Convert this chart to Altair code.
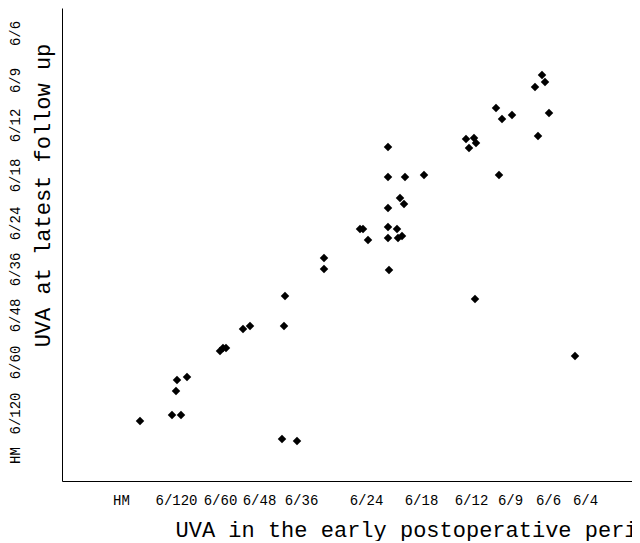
import altair as alt
import pandas as pd

# Acuity categories and where each label sits along its axis (axis units)
x_labels = ["HM", "6/120", "6/60", "6/48", "6/36", "6/24", "6/18", "6/12", "6/9", "6/6", "6/4"]
x_ticks = [5.9, 11.4, 15.8, 19.7, 23.9, 30.4, 35.9, 40.9, 44.8, 48.6, 52.3]
y_labels = ["HM", "6/120", "6/60", "6/48", "6/36", "6/24", "6/18", "6/12", "6/9", "6/6"]
y_ticks = [2.6, 6.8, 11.9, 16.6, 21.2, 25.8, 30.6, 35.6, 40.1, 44.8]

# Patients: UVA early postoperative (x) vs UVA at latest follow up (y)
uva_early = [7.8, 11.0, 11.9, 11.4, 11.5, 12.5, 15.8, 16.1, 16.4, 18.1, 18.8,
             22.3, 22.2, 22.0, 23.5,
             26.2, 26.2, 29.8, 30.1, 30.6, 32.6, 32.6, 32.6, 32.6, 32.6, 32.7,
             33.5, 33.6, 34.0, 33.8, 34.2, 34.3, 36.2,
             40.4, 41.2, 41.4, 40.7, 41.3, 43.4, 44.0, 45.0, 43.7, 47.3, 48.0,
             48.3, 48.7, 47.6, 51.3]
uva_latest = [6.0, 6.6, 6.6, 9.0, 10.1, 10.4, 13.0, 13.3, 13.3, 15.2, 15.5,
              18.5, 15.5, 4.2, 4.0,
              22.3, 21.2, 25.2, 25.2, 24.1, 33.4, 30.4, 27.3, 25.4, 24.3, 21.1,
              25.2, 24.3, 24.5, 28.3, 27.7, 30.4, 30.6,
              34.2, 34.3, 33.8, 33.3, 18.2, 37.3, 36.2, 36.6, 30.6, 39.4, 40.6,
              39.9, 36.8, 34.5, 12.5]

df = pd.DataFrame({"early": uva_early, "latest": uva_latest})

x_expr = "{" + ", ".join(f"'{v}': '{l}'" for v, l in zip(x_ticks, x_labels)) + "}[datum.value]"
y_expr = "{" + ", ".join(f"'{v}': '{l}'" for v, l in zip(y_ticks, y_labels)) + "}[datum.value]"

font = "Liberation Mono"

chart = alt.Chart(df).mark_point(
    shape="diamond", filled=True, color="black", opacity=1, size=72
).encode(
    x=alt.X("early:Q",
            scale=alt.Scale(domain=[0, 57.0], nice=False, zero=False),
            axis=alt.Axis(values=x_ticks, labelExpr=x_expr, ticks=False, grid=False,
                          domainColor="black", domainWidth=1,
                          labelFont=font, labelFontSize=14, labelColor="black",
                          labelPadding=12, labelBaseline="top", labelAlign="center",
                          labelOverlap=False,
                          title="UVA in the early postoperative period",
                          titleFont=font, titleFontSize=22, titleFontWeight="normal",
                          titleColor="black", titleAlign="left", titleAnchor="start",
                          titleX=113, titleY=55, titleBaseline="alphabetic")),
    y=alt.Y("latest:Q",
            scale=alt.Scale(domain=[0, 47.3], nice=False, zero=False),
            axis=alt.Axis(values=y_ticks, labelExpr=y_expr, ticks=False, grid=False,
                          domainColor="black", domainWidth=1,
                          labelFont=font, labelFontSize=14, labelColor="black",
                          labelAngle=270, labelAlign="center", labelBaseline="bottom",
                          labelPadding=40, labelOverlap=False,
                          title="UVA at latest follow up",
                          titleFont=font, titleFontSize=22, titleFontWeight="normal",
                          titleColor="black", titleAngle=270, titleAlign="center",
                          titleX=-20, titleY=187, titleBaseline="middle")),
).properties(
    width=570, height=473,
    autosize=alt.AutoSizeParams(type="none"),
    padding={"left": 54, "top": 0, "right": 0, "bottom": 60},
).configure_view(stroke=None)

chart.save("out.html", embed_options={"renderer": "svg", "actions": False})
